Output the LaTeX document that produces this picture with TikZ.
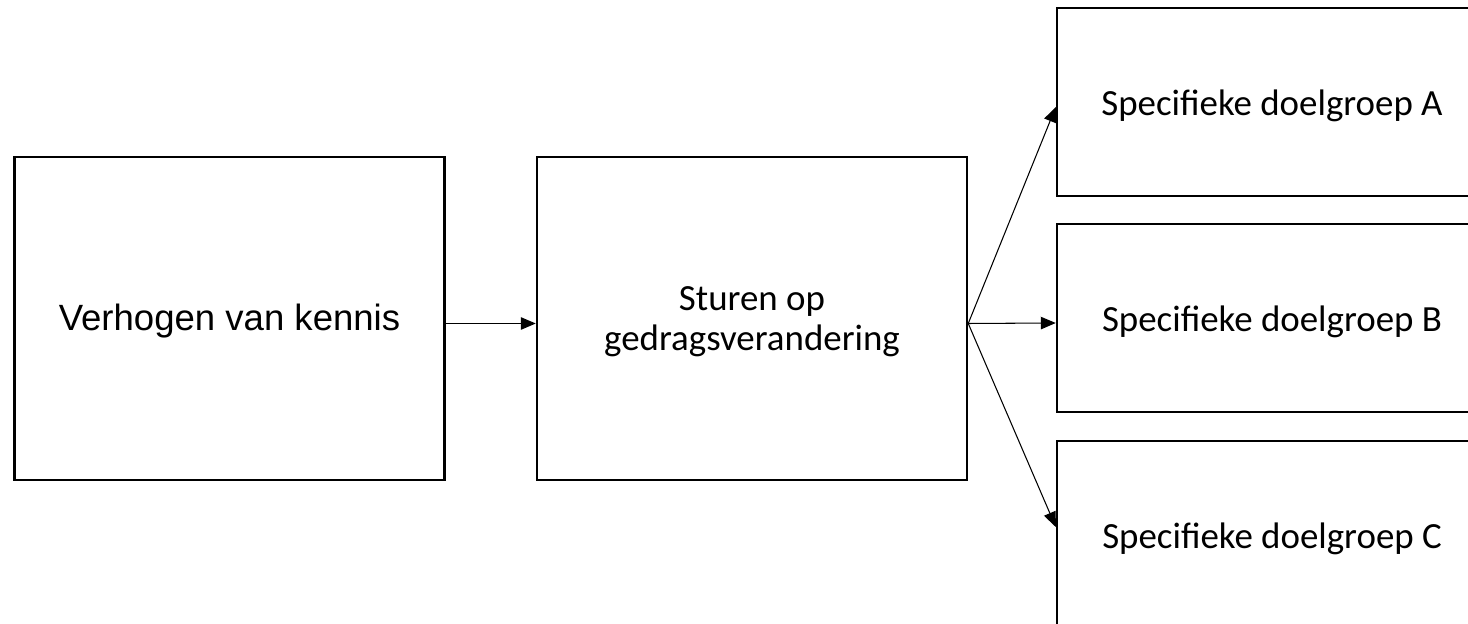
\documentclass[tikz,border=0pt]{standalone}
\usepackage{fontspec}
\setmainfont{Carlito}
\newfontfamily\arialfont{Liberation Sans}
\usetikzlibrary{arrows.meta}
\begin{document}
\begin{tikzpicture}[
    box/.style={draw, line width=1.4pt, minimum width=8.6cm, inner sep=0pt},
    bigbox/.style={box, minimum height=6.46cm},
    smallbox/.style={box, minimum height=3.76cm},
    boxtext/.style={align=center, yshift=-0.07cm, font=\fontsize{21}{22.7}\selectfont},
    arr/.style={line width=0.6pt, -{Triangle[length=0.3cm, width=0.25cm]}}
  ]
  \useasboundingbox (0,0) rectangle (29.36,12.48);
  \clip (0,0) rectangle (29.36,12.48);

  \node[bigbox, label={[boxtext, yshift=0.02cm, font=\arialfont\fontsize{20.8}{24}\selectfont]center:Verhogen van kennis}] (verhogen) at (4.59,6.11) {};
  \node[bigbox, label={[boxtext]center:Sturen op\\gedragsverandering}] (sturen) at (15.04,6.11) {};

  \node[smallbox, label={[boxtext]center:Specifieke doelgroep A}] (doelA) at (25.44,10.44) {};
  \node[smallbox, label={[boxtext]center:Specifieke doelgroep B}] (doelB) at (25.44,6.12) {};
  \node[smallbox, label={[boxtext]center:Specifieke doelgroep C}] (doelC) at (25.44,1.78) {};

  \draw[arr] ([yshift=-0.1cm]verhogen.east) -- ([yshift=-0.1cm]sturen.west);
  \draw[arr] ([yshift=-0.1cm]sturen.east) -- ([yshift=-0.1cm]doelA.west);
  \draw[arr] ([yshift=-0.1cm]sturen.east) -- ([yshift=-0.1cm]doelB.west);
  \draw[arr] ([yshift=-0.1cm]sturen.east) -- ([yshift=0.16cm]doelC.west);
\end{tikzpicture}
\end{document}
